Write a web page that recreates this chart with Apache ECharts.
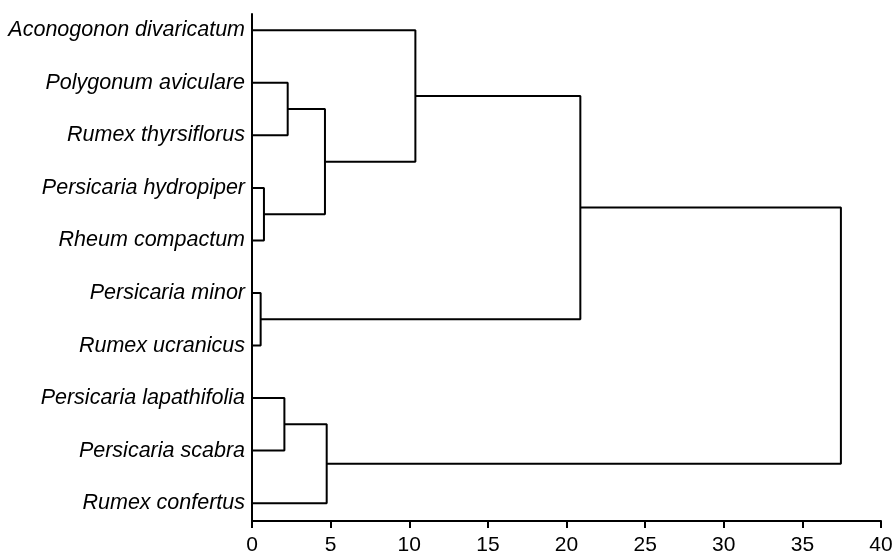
<!DOCTYPE html>
<html>
<head>
<meta charset="utf-8">
<script src="https://cdn.jsdelivr.net/npm/echarts@6/dist/echarts.min.js"></script>
<style>
html,body{margin:0;padding:0;background:#fff;}
#chart{width:894px;height:552px;}
</style>
</head>
<body>
<div id="chart"></div>
<script>
// Leaves, top to bottom
var leaves = [
  'Aconogonon divaricatum',
  'Polygonum aviculare',
  'Rumex thyrsiflorus',
  'Persicaria hydropiper',
  'Rheum compactum',
  'Persicaria minor',
  'Rumex ucranicus',
  'Persicaria lapathifolia',
  'Persicaria scabra',
  'Rumex confertus'
];
// Linkage: [child A id, child B id, merge height]; ids 0-9 are leaves, 10+ are merges in order
var mergeLeft   = [1, 3, 10, 0, 5, 13, 7, 16, 15];
var mergeRight  = [2, 4, 11, 12, 6, 14, 8, 9, 17];
var mergeHeight = [2.27, 0.76, 4.64, 10.39, 0.55, 20.88, 2.06, 4.75, 37.45];
var xTicks = [0, 5, 10, 15, 20, 25, 30, 35, 40];

var nodeX = [], nodeY = [];
leaves.forEach(function (n, i) { nodeX.push(0); nodeY.push(i + 1); });
var series = [];
for (var k = 0; k < mergeHeight.length; k++) {
  var a = mergeLeft[k], b = mergeRight[k], h = mergeHeight[k];
  series.push({
    type: 'line',
    silent: true,
    symbol: 'none',
    animation: false,
    lineStyle: { color: '#000', width: 2 },
    data: [[nodeX[a], nodeY[a]], [h, nodeY[a]], [h, nodeY[b]], [nodeX[b], nodeY[b]]]
  });
  nodeX.push(h);
  nodeY.push((nodeY[a] + nodeY[b]) / 2);
}

var chart = echarts.init(document.getElementById('chart'));
chart.setOption({
  animation: false,
  grid: { left: 252, right: 13, top: 14, bottom: 31, outerBoundsMode: 'none', containLabel: false },
  xAxis: {
    type: 'value', min: 0, max: 40, interval: 5,
    axisLine: { show: true, lineStyle: { color: '#000', width: 2 } },
    axisTick: { show: true, length: 7, lineStyle: { color: '#000', width: 2 } },
    axisLabel: { color: '#000', fontSize: 21, fontFamily: 'Liberation Sans, Arial, sans-serif', margin: 14,
      customValues: xTicks },
    splitLine: { show: false }
  },
  yAxis: {
    type: 'value', min: 0.69, max: 10.34, inverse: true,
    axisLine: { show: true, lineStyle: { color: '#000', width: 2 } },
    axisTick: { show: false },
    axisLabel: {
      customValues: leaves.map(function (n, i) { return i + 1; }),
      formatter: function (v) { return leaves[Math.round(v) - 1] || ''; },
      color: '#000', fontSize: 21.5, fontStyle: 'italic',
      fontFamily: 'Liberation Sans, Arial, sans-serif', margin: 7
    },
    splitLine: { show: false }
  },
  series: series
});
</script>
</body>
</html>
